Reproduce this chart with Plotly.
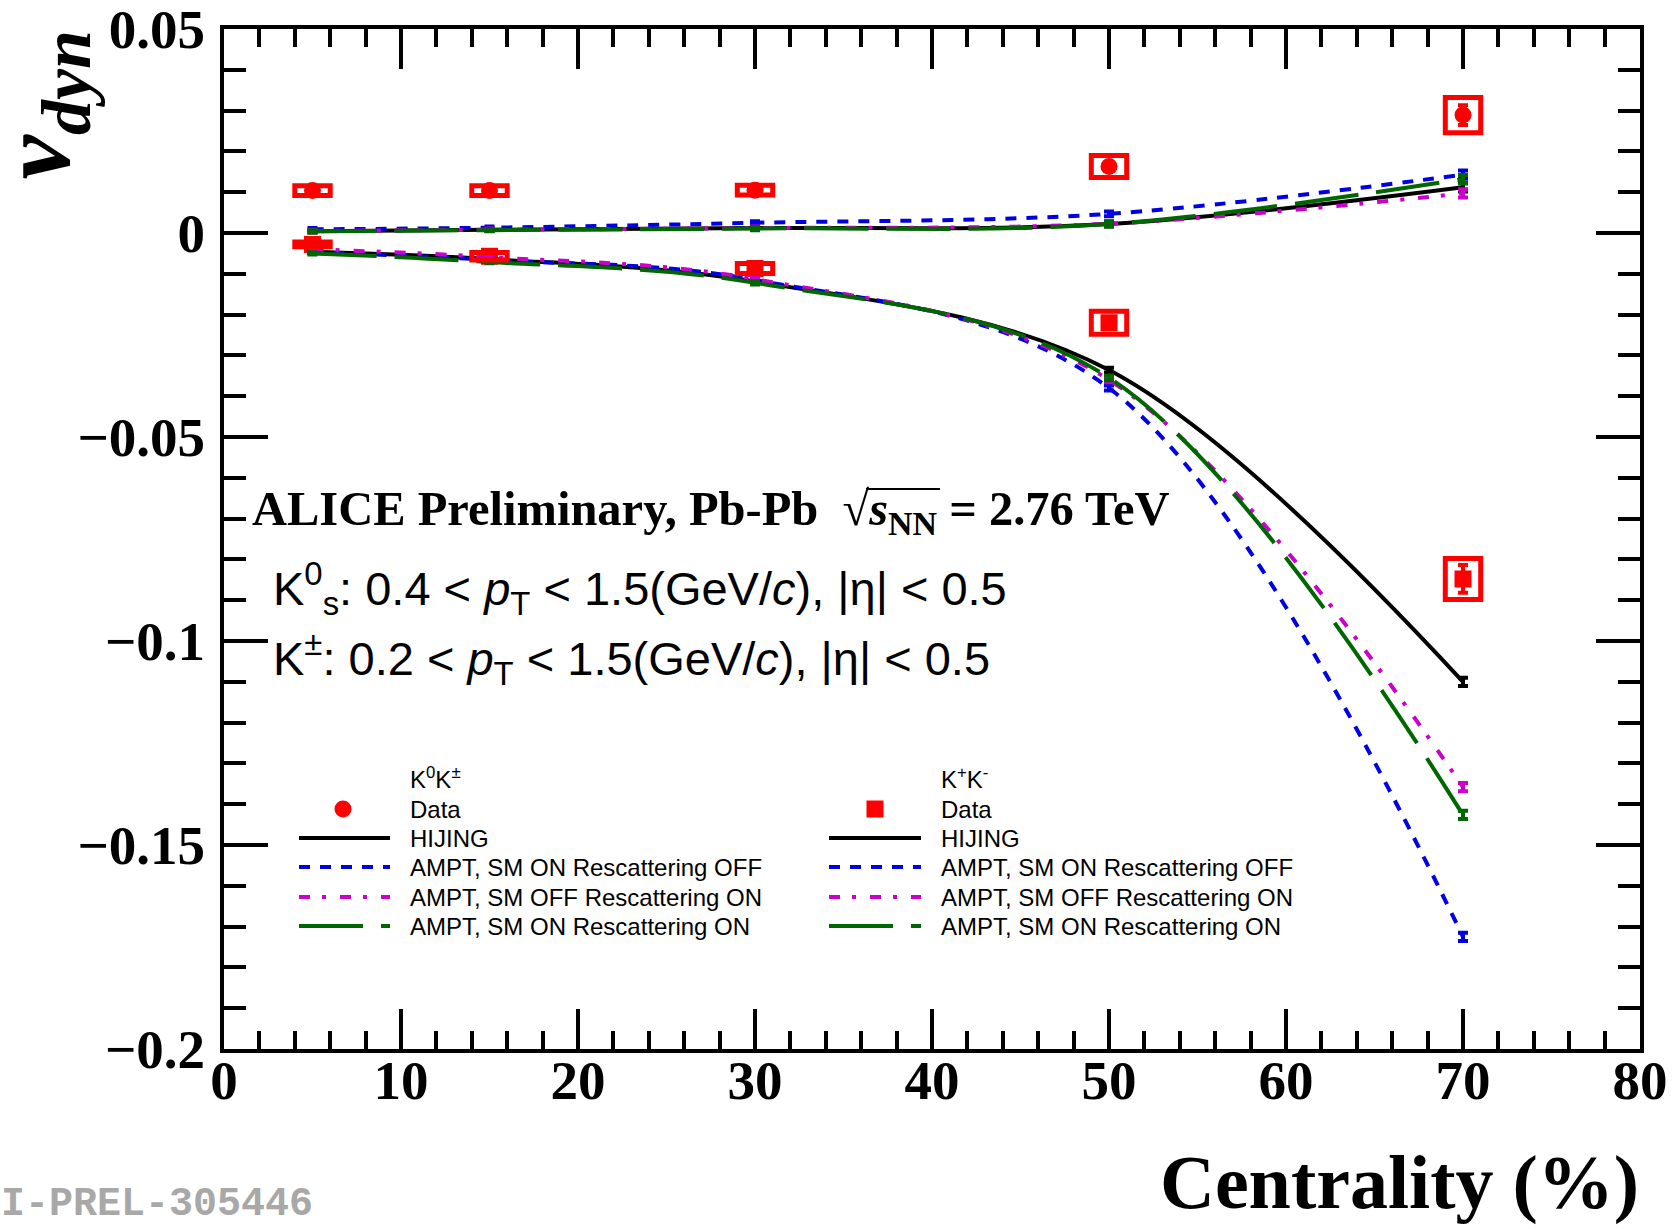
import plotly.graph_objects as go

# ---------------- data ----------------
centrality = [5, 15, 30, 50, 70]

# K0K+- data (circles)
k0kpm_data = [0.0104, 0.0104, 0.0105, 0.0163, 0.0289]
k0kpm_stat = [0.0005, 0.0005, 0.0006, 0.0010, 0.0024]
k0kpm_sys = [0.0012, 0.0012, 0.0012, 0.0027, 0.0043]

# K+K- data (squares)
kpkm_data = [-0.0028, -0.0057, -0.0087, -0.0220, -0.0848]
kpkm_stat = [0.0005, 0.0006, 0.0008, 0.0012, 0.0034]
kpkm_sys = [0.0006, 0.0009, 0.0012, 0.0028, 0.0050]

sys_halfwidth = [1.0, 1.0, 1.0, 1.0, 1.0]

# models, K0K+-
k0kpm_hijing = [0.0004, 0.0008, 0.0012, 0.0022, 0.0112]
k0kpm_smon_resoff = [0.0009, 0.0013, 0.0025, 0.0047, 0.0143]
k0kpm_smoff_reson = [0.0005, 0.0008, 0.0012, 0.0023, 0.0097]
k0kpm_smon_reson = [0.0004, 0.0007, 0.0011, 0.0022, 0.0132]

# models, K+K-
kpkm_hijing = [-0.0046, -0.0064, -0.0119, -0.0336, -0.1100]
kpkm_smon_resoff = [-0.0047, -0.0066, -0.0115, -0.0380, -0.1725]
kpkm_smoff_reson = [-0.0040, -0.0059, -0.0113, -0.0360, -0.1358]
kpkm_smon_reson = [-0.0050, -0.0071, -0.0122, -0.0355, -0.1426]

model_err = [0.0003, 0.0003, 0.0004, 0.0006, 0.0010]

model_names = ["HIJING", "AMPT, SM ON Rescattering OFF",
               "AMPT, SM OFF Rescattering ON", "AMPT, SM ON Rescattering ON"]

x_ticks = [0, 10, 20, 30, 40, 50, 60, 70, 80]
y_ticks = [-0.2, -0.15, -0.1, -0.05, 0, 0.05]
y_ticktext = ["\u22120.2", "\u22120.15", "\u22120.1", "\u22120.05", "0", "0.05"]

# ---------------- styles ----------------
RED = "#FF0000"
model_styles = [
    ("black", "solid"),
    ("#0000E0", "11px,10px"),
    ("#CC00CC", "11px,12px,4px,14px"),
    ("#006600", "64px,18px"),
]

W, H = 1675, 1229
L, R, T, B = 224, 1640, 29, 1049


def px(xp):
    return (xp - L) / (R - L)


def py(yp):
    return (B - yp) / (B - T)


fig = go.Figure()

# systematic boxes
for ys, ss in [(k0kpm_data, k0kpm_sys), (kpkm_data, kpkm_sys)]:
    for xv, yv, sv, hw in zip(centrality, ys, ss, sys_halfwidth):
        fig.add_shape(type="rect", xref="x", yref="y",
                      x0=xv - hw, x1=xv + hw, y0=yv - sv, y1=yv + sv,
                      line=dict(color=RED, width=5), fillcolor="rgba(0,0,0,0)",
                      layer="above")

# data
fig.add_trace(go.Scatter(
    x=centrality, y=k0kpm_data, mode="markers",
    marker=dict(symbol="circle", size=17, color=RED),
    error_y=dict(type="data", array=k0kpm_stat, color=RED, thickness=4, width=5),
    showlegend=False))
fig.add_trace(go.Scatter(
    x=centrality, y=kpkm_data, mode="markers",
    marker=dict(symbol="square", size=17, color=RED),
    error_y=dict(type="data", array=kpkm_stat, color=RED, thickness=4, width=5),
    showlegend=False))

# models
upper = [k0kpm_hijing, k0kpm_smon_resoff, k0kpm_smoff_reson, k0kpm_smon_reson]
lower = [kpkm_hijing, kpkm_smon_resoff, kpkm_smoff_reson, kpkm_smon_reson]
for name, up, lo, (col, dash) in zip(model_names, upper, lower, model_styles):
    for ys in (up, lo):
        fig.add_trace(go.Scatter(
            x=centrality, y=ys, mode="lines", name=name,
            line=dict(color=col, width=4, dash=dash, shape="spline", smoothing=1.0),
            error_y=dict(type="data", array=model_err, color=col, thickness=4, width=5),
            showlegend=False))

axis_common = dict(showgrid=False, zeroline=False, showline=True, linewidth=4,
                   linecolor="black", mirror="ticks", ticks="inside", tickwidth=4,
                   tickcolor="black", automargin=False,
                   tickfont=dict(family="Liberation Serif", size=55, color="black",
                                 weight="bold"))

fig.update_xaxes(range=[0, 80], tickvals=x_ticks, ticklen=40,
                 minor=dict(dtick=2, tick0=0, ticks="inside", ticklen=18,
                            tickwidth=4, tickcolor="black"),
                 ticklabelstandoff=-20, **axis_common)
fig.update_yaxes(range=[-0.2000001, 0.0500001], tickvals=y_ticks, ticktext=y_ticktext,
                 ticklen=44,
                 minor=dict(dtick=0.01, tick0=0, ticks="inside", ticklen=22,
                            tickwidth=4, tickcolor="black"),
                 ticklabelstandoff=4, ticklabeloverflow="allow", **axis_common)

ann = []
serif = "Liberation Serif"
sans = "Liberation Sans"

# axis titles
ann.append(dict(text="<i>v</i><sub><i>dyn</i></sub>", xref="paper", yref="paper",
                x=px(42), y=py(30), xanchor="center", yanchor="top", textangle=-90,
                showarrow=False, borderpad=0,
                font=dict(family=serif, size=100, color="black", weight="bold")))
ann.append(dict(text="Centrality (%)", xref="paper", yref="paper",
                x=1.0, y=py(1226), xanchor="right", yanchor="bottom",
                showarrow=False, borderpad=0,
                font=dict(family=serif, size=76, color="black", weight="bold")))
ann.append(dict(text="I-PREL-305446", xref="paper", yref="paper",
                x=px(0), y=py(1228), xanchor="left", yanchor="bottom",
                showarrow=False, borderpad=0,
                font=dict(family="Liberation Mono", size=40, color="#A8A8A8",
                          weight="bold")))

# header texts
ann.append(dict(text="ALICE Preliminary, Pb-Pb  √<i>s</i><sub>NN</sub> = 2.76 TeV",
                xref="paper", yref="paper", x=px(251), y=py(512),
                xanchor="left", yanchor="middle", showarrow=False, borderpad=0,
                font=dict(family=serif, size=48.5, color="black", weight="bold")))
ann.append(dict(text="K<sup>0</sup><sub>s</sub>: 0.4 &lt; <i>p</i><sub>T</sub> &lt; 1.5(GeV/<i>c</i>), |η| &lt; 0.5",
                xref="paper", yref="paper", x=px(272), y=py(588),
                xanchor="left", yanchor="middle", showarrow=False, borderpad=0,
                font=dict(family=sans, size=47, color="black")))
ann.append(dict(text="K<sup>±</sup>: 0.2 &lt; <i>p</i><sub>T</sub> &lt; 1.5(GeV/<i>c</i>), |η| &lt; 0.5",
                xref="paper", yref="paper", x=px(272), y=py(658),
                xanchor="left", yanchor="middle", showarrow=False, borderpad=0,
                font=dict(family=sans, size=47, color="black")))
# radical overline
fig.add_shape(type="line", xref="paper", yref="paper",
              x0=px(866), x1=px(940), y0=py(489), y1=py(489),
              line=dict(color="black", width=2))

# legends
rows_y = [778, 809, 838, 867, 897, 926]
columns = [
    dict(header="K<sup>0</sup>K<sup>±</sup>", symbol="circle", lx0=299, lx1=390, mx=343, tx=409),
    dict(header="K<sup>+</sup>K<sup>-</sup>", symbol="square", lx0=829, lx1=921, mx=875, tx=940),
]
for col in columns:
    labels = [col["header"], "Data"] + model_names
    for lab, yy in zip(labels, rows_y):
        ann.append(dict(text=lab, xref="paper", yref="paper", x=px(col["tx"]), y=py(yy),
                        xanchor="left", yanchor="middle", showarrow=False, borderpad=0,
                        font=dict(family=sans, size=24, color="black")))
    # marker sample
    r = 8.5
    fig.add_shape(type="circle" if col["symbol"] == "circle" else "rect",
                  xref="paper", yref="paper",
                  x0=px(col["mx"] - r), x1=px(col["mx"] + r),
                  y0=py(rows_y[1] + r), y1=py(rows_y[1] - r),
                  line=dict(width=0), fillcolor=RED)
    for (c, dash), yy in zip(model_styles, rows_y[2:]):
        fig.add_shape(type="line", xref="paper", yref="paper",
                      x0=px(col["lx0"]), x1=px(col["lx1"]), y0=py(yy), y1=py(yy),
                      line=dict(color=c, width=4, dash=dash))

fig.update_layout(width=W, height=H, margin=dict(l=L, r=W - R, t=T, b=H - B, autoexpand=False),
                  paper_bgcolor="white", plot_bgcolor="white",
                  annotations=ann, showlegend=False)

fig.write_html("out.html")
